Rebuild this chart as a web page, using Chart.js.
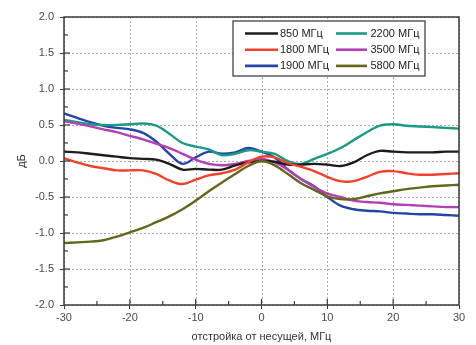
<!DOCTYPE html>
<html>
<head>
<meta charset="utf-8">
<script src="https://cdn.jsdelivr.net/npm/chart.js@4/dist/chart.umd.min.js"></script>
<style>
html,body{margin:0;padding:0;background:#fff;}
#wrap{width:476px;height:345px;position:relative;}
</style>
</head>
<body>
<div id="wrap"><canvas id="c" width="476" height="345"></canvas></div>
<script>
// Offsets, MHz
const offsets = [-30,-28,-26,-24,-22,-20,-18,-16,-14,-12,-10,-8,-6,-4,-2,0,2,4,6,8,10,12,14,16,18,20,22,24,26,28,30];
const labels = ['850 МГц','2200 МГц','1800 МГц','3500 МГц','1900 МГц','5800 МГц'];
const s850  = [0.13,0.12,0.10,0.08,0.06,0.04,0.03,0.02,-0.04,-0.12,-0.11,-0.12,-0.12,-0.06,-0.02,0.00,-0.01,-0.05,-0.05,-0.04,-0.05,-0.07,-0.02,0.08,0.14,0.13,0.12,0.12,0.12,0.13,0.13];
const s2200 = [0.57,0.54,0.51,0.50,0.50,0.51,0.52,0.49,0.38,0.25,0.20,0.16,0.08,0.10,0.15,0.13,0.10,0.00,-0.04,0.03,0.10,0.18,0.29,0.40,0.49,0.51,0.49,0.48,0.47,0.46,0.45];
const s1800 = [0.04,-0.02,-0.07,-0.10,-0.13,-0.13,-0.13,-0.18,-0.27,-0.32,-0.26,-0.20,-0.17,-0.12,-0.02,0.06,0.05,-0.03,-0.08,-0.14,-0.22,-0.28,-0.28,-0.22,-0.15,-0.14,-0.17,-0.19,-0.19,-0.18,-0.17];
const s3500 = [0.55,0.52,0.48,0.44,0.40,0.35,0.30,0.24,0.18,0.10,0.02,-0.04,-0.06,-0.04,0.00,0.03,-0.02,-0.12,-0.25,-0.36,-0.45,-0.50,-0.55,-0.57,-0.58,-0.60,-0.61,-0.62,-0.63,-0.64,-0.64];
const s1900 = [0.66,0.60,0.54,0.49,0.46,0.44,0.39,0.27,0.10,-0.04,0.05,0.13,0.10,0.12,0.18,0.13,0.05,-0.12,-0.25,-0.35,-0.50,-0.62,-0.67,-0.69,-0.70,-0.72,-0.73,-0.74,-0.74,-0.75,-0.76];
const s5800 = [-1.14,-1.13,-1.12,-1.10,-1.05,-0.99,-0.93,-0.85,-0.77,-0.67,-0.55,-0.42,-0.30,-0.18,-0.07,0.00,-0.06,-0.18,-0.31,-0.40,-0.49,-0.53,-0.53,-0.49,-0.45,-0.42,-0.39,-0.37,-0.35,-0.34,-0.33];
const seriesValues = [s850, s2200, s1800, s3500, s1900, s5800];
const colors = ['#1c1c1c','#1b9a86','#f0412a','#b23fb4','#2345a6','#66651c'];
const yTicks = [-2.0,-1.5,-1.0,-0.5,0.0,0.5,1.0,1.5,2.0];
const xTicks = [-30,-20,-10,0,10,20,30];

const datasets = seriesValues.map((vals,i)=>({
  label: labels[i],
  data: offsets.map((x,j)=>({x:x,y:vals[j]})),
  borderColor: colors[i],
  borderWidth: 2.4,
  pointRadius: 0,
  tension: 0.35,
  fill: false
}));
// draw order: olive at bottom
const order = [5,2,0,3,1,4];
order.forEach((d,k)=>{datasets[d].order = k; });

const framePlugin = {
  id:'frame',
  beforeDatasetsDraw(chart){
    // dotted grid lines
    const {ctx, chartArea:a, scales} = chart;
    ctx.save();
    ctx.strokeStyle = '#a9a9a9';
    ctx.lineWidth = 1;
    ctx.setLineDash([2,2]);
    xTicks.forEach(v=>{
      const px = Math.round(scales.x.getPixelForValue(v))+0.5;
      ctx.beginPath(); ctx.moveTo(px,a.top); ctx.lineTo(px,a.bottom); ctx.stroke();
    });
    yTicks.forEach(v=>{
      const py = Math.round(scales.y.getPixelForValue(v))+0.5;
      ctx.beginPath(); ctx.moveTo(a.left,py); ctx.lineTo(a.right,py); ctx.stroke();
    });
    ctx.restore();
  },
  afterDatasetsDraw(chart){
    const {ctx, chartArea:a, scales} = chart;
    ctx.save();
    ctx.strokeStyle = '#3a3a3a';
    ctx.lineWidth = 1.5;
    ctx.strokeRect(a.left, a.top, a.right-a.left, a.bottom-a.top);
    // inward ticks
    ctx.lineWidth = 1.2;
    for (let v=-25; v<=25; v+=10){
      const px = scales.x.getPixelForValue(v);
      ctx.beginPath(); ctx.moveTo(px,a.bottom); ctx.lineTo(px,a.bottom-4); ctx.stroke();
    }
    for (let v=-20; v<=20; v+=10){
      const px = scales.x.getPixelForValue(v);
      ctx.beginPath(); ctx.moveTo(px,a.bottom); ctx.lineTo(px,a.bottom-6); ctx.stroke();
    }
    for (let v=-1.75; v<=1.8; v+=0.5){
      const py = scales.y.getPixelForValue(v);
      ctx.beginPath(); ctx.moveTo(a.left,py); ctx.lineTo(a.left+4,py); ctx.stroke();
    }
    for (let v=-1.5; v<=1.6; v+=0.5){
      const py = scales.y.getPixelForValue(v);
      ctx.beginPath(); ctx.moveTo(a.left,py); ctx.lineTo(a.left+6,py); ctx.stroke();
    }
    // legend
    const bx=233, by=21, bw=192, bh=55;
    ctx.fillStyle='#fff';
    ctx.fillRect(bx,by,bw,bh);
    ctx.strokeStyle='#333'; ctx.lineWidth=1.2;
    ctx.strokeRect(bx,by,bw,bh);
    ctx.font = '11px "Liberation Sans", Arial, sans-serif';
    ctx.textBaseline='middle';
    chart.data.datasets.forEach((ds,i)=>{
      const col = i%2, row = Math.floor(i/2);
      const lx = col===0 ? 245 : 336;
      const lw = col===0 ? 33 : 31;
      const ty = 33.5 + row*16.2;
      ctx.strokeStyle = ds.borderColor; ctx.lineWidth = 2.6;
      ctx.beginPath(); ctx.moveTo(lx,ty); ctx.lineTo(lx+lw,ty); ctx.stroke();
      ctx.fillStyle='#222';
      ctx.fillText(ds.label, col===0 ? 280 : 370.5, ty+0.5);
    });
    ctx.restore();
  }
};

new Chart(document.getElementById('c'), {
  type:'line',
  data:{datasets:datasets},
  options:{
    responsive:false,
    animation:false,
    layout:{padding:{top:17,right:17,left:0,bottom:0}},
    plugins:{legend:{display:false},tooltip:{enabled:false}},
    scales:{
      x:{
        type:'linear', min:-30, max:30,
        afterBuildTicks(s){ s.ticks = xTicks.map(v=>({value:v})); },
        afterFit(s){ s.height = 40; },
        grid:{drawOnChartArea:false, drawTicks:true, tickLength:4, tickColor:'#3a3a3a'},
        border:{display:false},
        ticks:{color:'#4a4a4a', font:{family:'"Liberation Sans", Arial, sans-serif', size:11}, padding:2, maxRotation:0,
          callback:(v)=>String(v)},
        title:{display:true, text:'отстройка от несущей, МГц', color:'#333',
          font:{family:'"Liberation Sans", Arial, sans-serif', size:11}, padding:{top:0,bottom:1}}
      },
      y:{
        type:'linear', min:-2, max:2,
        afterBuildTicks(s){ s.ticks = yTicks.map(v=>({value:v})); },
        afterFit(s){ s.width = 64; },
        grid:{drawOnChartArea:false, drawTicks:true, tickLength:4, tickColor:'#3a3a3a'},
        border:{display:false},
        ticks:{color:'#4a4a4a', font:{family:'"Liberation Sans", Arial, sans-serif', size:11}, padding:6,
          callback:(v)=>Number(v).toFixed(1)},
        title:{display:true, text:'дБ', color:'#333',
          font:{family:'"Liberation Sans", Arial, sans-serif', size:11}, padding:{top:15,bottom:0}}
      }
    }
  },
  plugins:[framePlugin]
});
</script>
</body>
</html>
